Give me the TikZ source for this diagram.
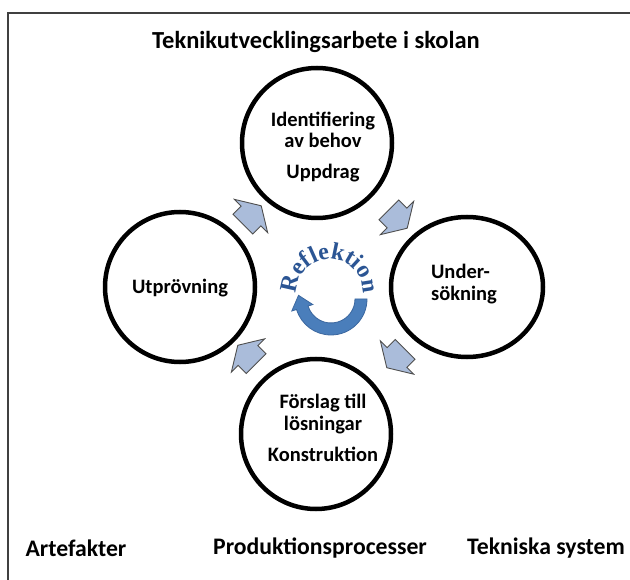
\documentclass[tikz,border=0pt]{standalone}
\usepackage{fontspec}
\setmainfont{Carlito}
\newfontfamily\reflfont{Liberation Serif}
\usetikzlibrary{shapes.geometric,shapes.arrows,calc,decorations.text}
\definecolor{arrowfill}{HTML}{AABCDA}
\definecolor{arrowline}{HTML}{4F4F4F}
\definecolor{reflblue}{HTML}{2B5594}
\definecolor{cycblue}{HTML}{4A7EBB}
\definecolor{cycline}{HTML}{3B679F}
\definecolor{framegray}{HTML}{404040}
\begin{document}
\begin{tikzpicture}[x=1pt,y=-1pt,
  phase/.style={circle,draw=black,line width=4.5pt,minimum size=150pt,inner sep=0pt},
  phaseoval/.style={ellipse,draw=black,line width=4.5pt,minimum width=152pt,minimum height=140pt,inner sep=0pt},
  phasetext/.style={font=\bfseries\fontsize{20.5}{21.5}\selectfont,align=center,inner sep=0pt},
  caption/.style={font=\bfseries\fontsize{23.7}{26}\selectfont,inner sep=0pt},
  titlestyle/.style={font=\bfseries\fontsize{24.5}{27}\selectfont,inner sep=0pt},
  cyclearrow/.style={single arrow,draw=arrowline,fill=arrowfill,line width=0.9pt,minimum height=26pt,text height=13.5pt,text depth=13.5pt,text width=0pt,inner sep=0pt,single arrow head extend=9.5pt,single arrow tip angle=117},
  frameline/.style={draw=framegray,line width=1.6pt},
  cycleband/.style={fill=cycblue,draw=cycline,line width=0.8pt}
]
\useasboundingbox (0,0) rectangle (630,580);
\fill[white] (0,0) rectangle (630,580);
\coordinate (fTR) at (632,13);
\coordinate (fTL) at (8,13);
\coordinate (fBL) at (8,582);
\draw[frameline] (fTR) -- (fTL) -- (fBL);

\node[titlestyle] (title) at (316,42) {Teknikutvecklingsarbete i skolan};

\node[phase] (top) at (317,143) {};
\node[phase] (left) at (180,287) {};
\node[phaseoval] (right) at (467,287) {};
\node[phase] (bottom) at (316,434) {};

\node[phasetext] (toptext) at (323,147) {Identifiering\\av behov\\[9pt]Uppdrag};
\node[phasetext] (lefttext) at (180,288) {Utprövning};
\node[phasetext,align=left] (righttext) at (464,284) {Under-\\sökning};
\node[phasetext] (bottomtext) at (323,428) {Förslag till\\lösningar\\[10pt]Konstruktion};

\node[cyclearrow,rotate=45] (a1) at ($(left)!0.5!(top)+(0.5,3)$) {};
\node[cyclearrow,rotate=-45] (a2) at ($(top)!0.5!(right)+(3,1)$) {};
\node[cyclearrow,rotate=-135] (a3) at ($(right)!0.5!(bottom)+(7.5,-5)$) {};
\node[cyclearrow,rotate=135] (a4) at ($(bottom)!0.5!(left)+(2,-3)$) {};

\coordinate (rc) at (330,292);
\path[decorate,decoration={text along path,text align=center,
  text={|\reflfont\bfseries\fontsize{24}{24}\selectfont\color{reflblue}|Reflektion}}]
  ($(rc)+(160:33)$) arc[start angle=160,end angle=380,radius=33];

\coordinate (cc) at (331,299);
\filldraw[cycleband]
  ($(cc)+(0:36)$) arc[start angle=0,end angle=163,radius=36]
  -- ($(cc)+(163:41)$) -- ($(cc)+(163:30)+(253:13)$) -- ($(cc)+(163:19)$)
  -- ($(cc)+(163:24)$) arc[start angle=163,end angle=0,radius=24] -- cycle;

\node[caption] (art) at (76,548) {Artefakter};
\node[caption] (prod) at (320,548) {Produktionsprocesser};
\node[caption] (tek) at (546,548) {Tekniska system};
\end{tikzpicture}
\end{document}
